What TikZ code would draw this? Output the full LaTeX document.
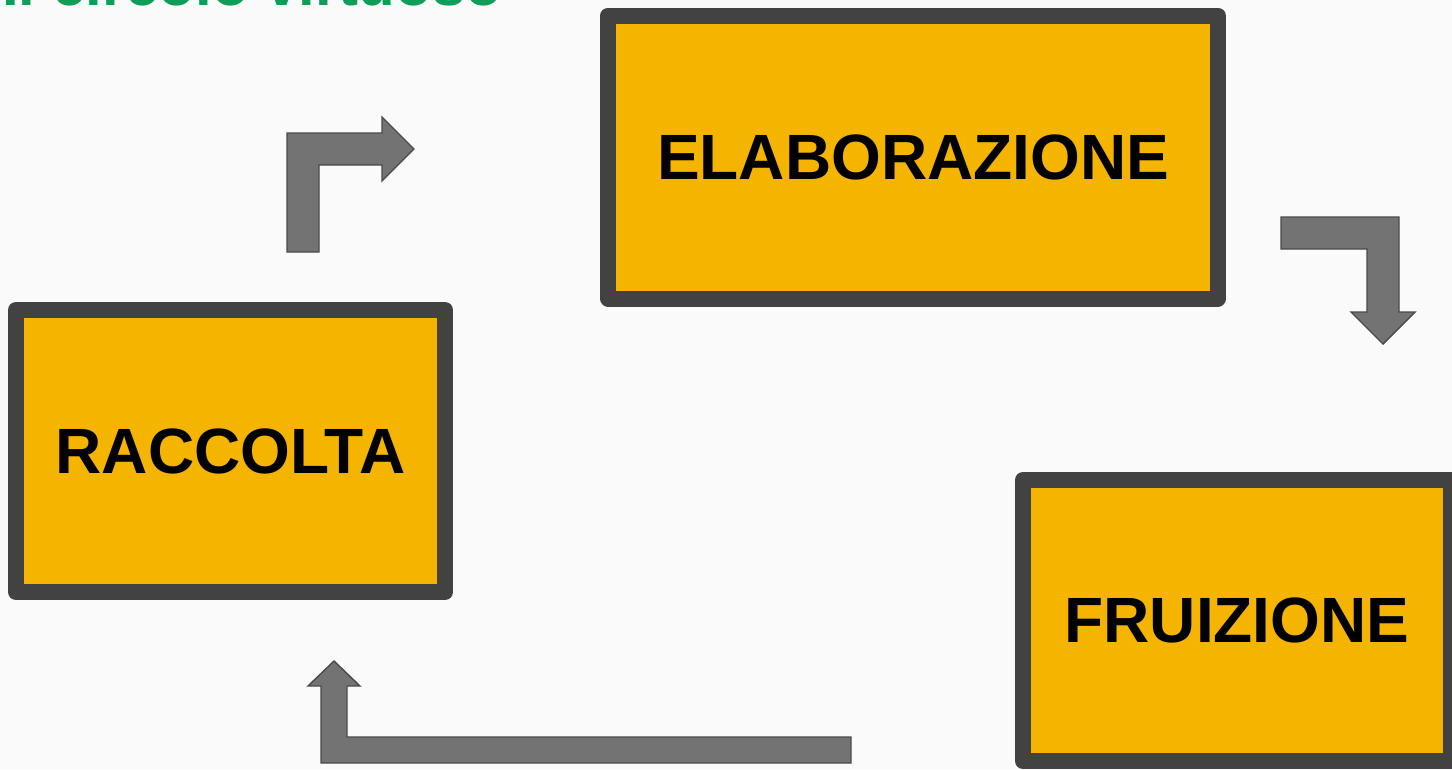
\documentclass[tikz,border=0pt]{standalone}
\usepackage{fontspec}
\setmainfont{Liberation Sans}
\definecolor{bg}{HTML}{FAFAFA}
\definecolor{boxfill}{HTML}{F4B400}
\definecolor{boxline}{HTML}{424242}
\definecolor{arrfill}{HTML}{737373}
\definecolor{arrline}{HTML}{4A4A4A}
\definecolor{titlegreen}{HTML}{0F9D58}
\begin{document}
\begin{tikzpicture}[x=1pt,y=-1pt,
  stepbox/.style={draw=boxline, fill=boxfill, line width=16pt, line join=round,
    rectangle, inner sep=0pt, outer sep=0pt,
    font=\fontsize{64}{77}\selectfont\bfseries, text=black},
  blockarrow/.style={draw=arrline, fill=arrfill, line width=1.4pt, line join=miter}]
\useasboundingbox (0,0) rectangle (1452,769);
\fill[bg] (0,0) rectangle (1452,769);
\begin{scope}
\clip (0,0) rectangle (1452,769);
% title (cut off by top edge, as in the reference)
\node[anchor=base west, inner sep=0pt, text=titlegreen,
  font=\fontsize{60}{72}\selectfont\bfseries] (title) at (2,5) {Il circolo virtuoso};
% boxes
\node[stepbox, minimum width=429pt, minimum height=282pt] (rac) at (230.5,451) {RACCOLTA};
\node[stepbox, minimum width=609.5pt, minimum height=283pt] (ela) at (913,157) {ELABORAZIONE};
\node[stepbox, minimum width=428pt, minimum height=281pt] (fru) at (1237,620.5) {FRUIZIONE};
% block arrows
\draw[blockarrow] (287,252) -- (287,133) -- (382,133) -- (382,117) -- (414,149)
  -- (382,181) -- (382,165) -- (319,165) -- (319,252) -- cycle;
\draw[blockarrow] (1281,217) -- (1399,217) -- (1399,312) -- (1415,312) -- (1383,344)
  -- (1351,312) -- (1367,312) -- (1367,249) -- (1281,249) -- cycle;
\draw[blockarrow] (851,737) -- (347,737) -- (347,686) -- (360,686) -- (334,661)
  -- (308,686) -- (321,686) -- (321,763) -- (851,763) -- cycle;
\end{scope}
\end{tikzpicture}
\end{document}
